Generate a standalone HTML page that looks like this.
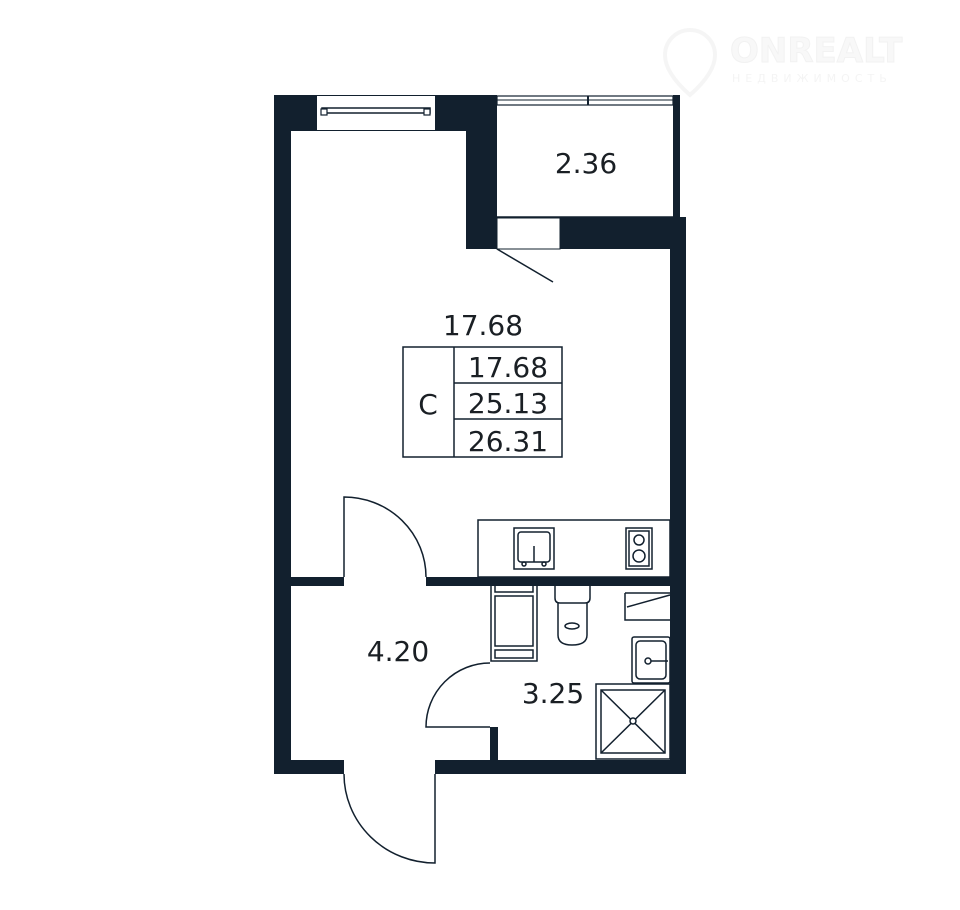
<!DOCTYPE html>
<html><head><meta charset="utf-8"><style>
html,body{margin:0;padding:0;background:#fff;}
svg{display:block;}
text{font-family:"DejaVu Sans","Liberation Sans",sans-serif;fill:#1a1f24;}
</style></head><body>
<svg width="960" height="910" viewBox="0 0 960 910" xmlns="http://www.w3.org/2000/svg">
<g opacity="0.5">
<text x="730" y="62" font-size="34" font-weight="bold" style="fill:#f2f2f2;stroke:#e6e6e6;stroke-width:1" >ONREALT</text>
<text x="732" y="82" font-size="11" letter-spacing="5" style="fill:#eaeaea">НЕДВИЖИМОСТЬ</text>
<path d="M690 30 a25 25 0 0 1 25 25 q0 18 -25 40 q-25 -22 -25 -40 a25 25 0 0 1 25 -25z" fill="none" stroke="#ececec" stroke-width="4"/>
</g>
<g fill="#12202e">
<rect x="274" y="95" width="17" height="679"/>
<rect x="274" y="95" width="223" height="36"/>
<rect x="466" y="95" width="31" height="154"/>
<rect x="560" y="217" width="126" height="32"/>
<rect x="670" y="217" width="16" height="557"/>
<rect x="673" y="95" width="7" height="122"/>
<rect x="274" y="760" width="70" height="14"/>
<rect x="435" y="760" width="251" height="14"/>
<rect x="290" y="577" width="54" height="9"/>
<rect x="426" y="577" width="244" height="9"/>
<rect x="490" y="727" width="8" height="35"/>
</g>
<rect x="317" y="95" width="118" height="36" fill="#fff"/>
<line x1="317" y1="95.5" x2="435" y2="95.5" stroke="#12202e" stroke-width="1"/>
<line x1="317" y1="130.5" x2="435" y2="130.5" stroke="#12202e" stroke-width="1"/>
<rect x="322" y="108" width="108" height="5" fill="#fff" stroke="#12202e" stroke-width="1.5"/>
<rect x="321" y="109" width="6" height="6" fill="#fff" stroke="#12202e" stroke-width="1.2"/>
<rect x="424" y="109" width="6" height="6" fill="#fff" stroke="#12202e" stroke-width="1.2"/>
<rect x="497" y="96" width="176" height="9" fill="#fff" stroke="#12202e" stroke-width="1.2"/>
<line x1="497" y1="100" x2="673" y2="100" stroke="#12202e" stroke-width="1"/>
<line x1="588" y1="96" x2="588" y2="105" stroke="#12202e" stroke-width="2"/>
<line x1="497" y1="217" x2="673" y2="217" stroke="#12202e" stroke-width="1.5"/>
<rect x="497" y="218" width="63" height="31" fill="#fff" stroke="#12202e" stroke-width="1"/>
<line x1="497" y1="249" x2="553" y2="282" stroke="#12202e" stroke-width="1.5"/>
<g fill="none" stroke="#12202e" stroke-width="1.5">
<path d="M344 577 L344 497 A82 80 0 0 1 426 577"/>
<path d="M435 774 L435 863 A91 89 0 0 1 344 774"/>
<path d="M490 663 A64 64 0 0 0 426 727 L490 727"/>
<rect x="478" y="520" width="192" height="57"/>
<rect x="514" y="528" width="40" height="41"/>
<rect x="518" y="532" width="32" height="30" rx="3"/>
<line x1="534" y1="546" x2="534" y2="562"/>
<circle cx="524" cy="564" r="2"/><circle cx="544" cy="564" r="2"/>
<rect x="626" y="528" width="26" height="41"/>
<rect x="629" y="531" width="20" height="35"/>
<circle cx="639" cy="540" r="5"/><circle cx="639" cy="556" r="6"/>
<rect x="491" y="579" width="46" height="82"/>
<rect x="495" y="584" width="38" height="8"/>
<rect x="495" y="596" width="38" height="50"/>
<rect x="495" y="650" width="38" height="8"/>
<path d="M555 586 L555 598 Q555 603 560 603 L585 603 Q590 603 590 598 L590 586"/>
<path d="M558 603 L558 635 Q558 645 572 645 Q587 645 587 635 L587 603"/>
<ellipse cx="572" cy="626" rx="7" ry="3"/>
<path d="M625 593 L670 593 M625 593 L625 620 L670 620 M627 607 L670 595"/>
<rect x="632" y="637" width="38" height="46" rx="2"/>
<rect x="636" y="641" width="30" height="38" rx="4"/>
<circle cx="648" cy="661" r="3"/>
<line x1="651" y1="661" x2="668" y2="661"/>
<rect x="596" y="684" width="74" height="75"/>
<rect x="601" y="690" width="64" height="63"/>
<line x1="601" y1="690" x2="665" y2="753"/>
<line x1="665" y1="690" x2="601" y2="753"/>
<circle cx="633" cy="721" r="3" fill="#fff"/>
<rect x="403" y="347" width="159" height="110" stroke-width="1.5"/>
<line x1="454" y1="347" x2="454" y2="457"/>
<line x1="454" y1="383" x2="562" y2="383"/>
<line x1="454" y1="419" x2="562" y2="419"/>
</g>
<g font-size="28">
<text x="483" y="335" text-anchor="middle">17.68</text>
<text x="428" y="414" text-anchor="middle">C</text>
<text x="508" y="377" text-anchor="middle">17.68</text>
<text x="508" y="413" text-anchor="middle">25.13</text>
<text x="508" y="451" text-anchor="middle">26.31</text>
<text x="586" y="173" text-anchor="middle">2.36</text>
<text x="398" y="661" text-anchor="middle">4.20</text>
<text x="553" y="703" text-anchor="middle">3.25</text>
</g>
</svg>
</body></html>
